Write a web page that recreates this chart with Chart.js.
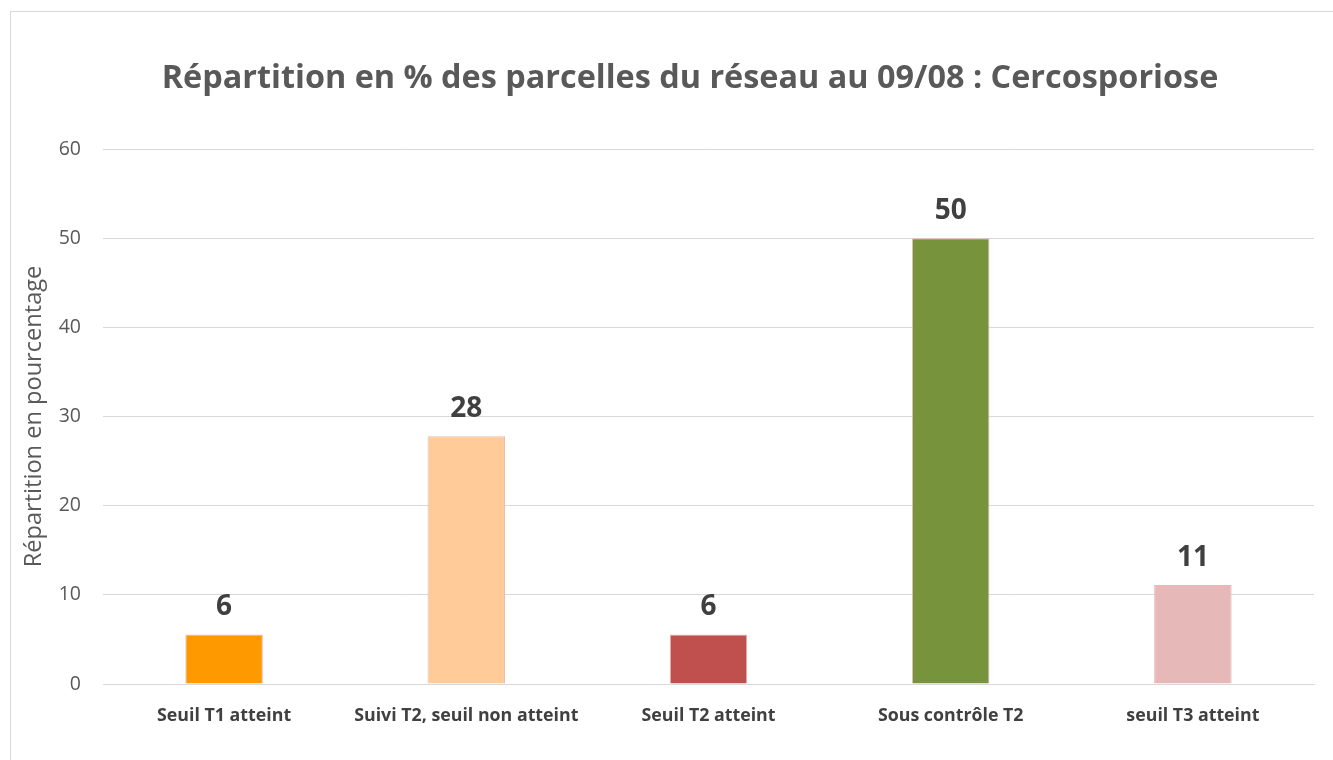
<!DOCTYPE html>
<html><head><meta charset="utf-8">
<script src="https://cdn.jsdelivr.net/npm/chart.js@4"></script>
<style>
html,body{margin:0;padding:0;background:#fff;overflow:hidden;}
#wrap{position:absolute;left:0;top:0;width:1333px;height:760px;}
#frame{position:absolute;left:10px;top:11px;width:1360px;height:800px;border:1px solid #d9d9d9;box-sizing:border-box;pointer-events:none;}
</style></head>
<body>
<div id="wrap"><canvas id="c" width="1333" height="760"></canvas></div>
<div id="frame"></div>
<script>
const categories = ["Seuil T1 atteint","Suivi T2, seuil non atteint","Seuil T2 atteint","Sous contrôle T2","seuil T3 atteint"];
const values = [5.56, 27.78, 5.56, 50, 11.11];
const barColors = ["#FF9900","#FFCC99","#C0504D","#77933C","#E6B9B8"];
const yTicks = [0,10,20,30,40,50,60];
const titleText = "Répartition en % des parcelles du réseau au 09/08 : Cercosporiose";
const yTitle = "Répartition en pourcentage";

// The chart frame extends past the right edge of the window (10px .. 1370px);
// the title is centred on that frame.
const FRAME_LEFT = 10, FRAME_RIGHT = 1370;

const titlePlugin = {
  id:'frameTitle',
  afterDraw(chart){
    const ctx = chart.ctx;
    ctx.save();
    ctx.font = 'bold 32.4px "Open Sans"';
    ctx.fillStyle = '#595959';
    ctx.textAlign = 'center';
    ctx.textBaseline = 'middle';
    ctx.fillText(titleText, (FRAME_LEFT + FRAME_RIGHT) / 2, 79);
    ctx.restore();
  }
};

const labelPlugin = {
  id:'vals',
  afterDatasetsDraw(chart){
    const ctx = chart.ctx;
    const meta = chart.getDatasetMeta(0);
    ctx.save();
    ctx.font = 'bold 28px "Open Sans"';
    ctx.fillStyle = '#404040';
    ctx.textAlign = 'center';
    ctx.textBaseline = 'alphabetic';
    meta.data.forEach((el,i)=>{
      ctx.fillText(String(Math.round(values[i])), el.x, el.y - 19);
    });
    ctx.restore();
  }
};

new Chart(document.getElementById('c'),{
  type:'bar',
  data:{labels:categories,datasets:[{data:values,backgroundColor:barColors,borderColor:"#E6B9B8",borderWidth:1,barPercentage:0.64,categoryPercentage:0.5}]},
  options:{
    responsive:false,animation:false,
    layout:{padding:{left:10,right:19,top:149,bottom:0}},
    plugins:{
      legend:{display:false},tooltip:{enabled:false},title:{display:false}
    },
    scales:{
      x:{
        grid:{display:false},border:{color:'#d9d9d9'},
        ticks:{color:'#404040',font:{family:'"Open Sans"',size:17.8,weight:'bold'},padding:13,maxRotation:0,autoSkip:false},
        afterFit(s){s.height=76;}
      },
      y:{
        min:0,max:60,
        afterBuildTicks(s){s.ticks=yTicks.map(v=>({value:v}));},
        grid:{color:'#d9d9d9',drawTicks:false},border:{display:false},
        ticks:{color:'#595959',font:{family:'"Open Sans"',size:19.5},padding:22},
        title:{display:true,text:yTitle,color:'#595959',font:{family:'"Open Sans"',size:23.6},padding:{top:10,bottom:0}},
        afterFit(s){s.width=93;}
      }
    }
  },
  plugins:[labelPlugin, titlePlugin]
});
</script>
</body></html>
